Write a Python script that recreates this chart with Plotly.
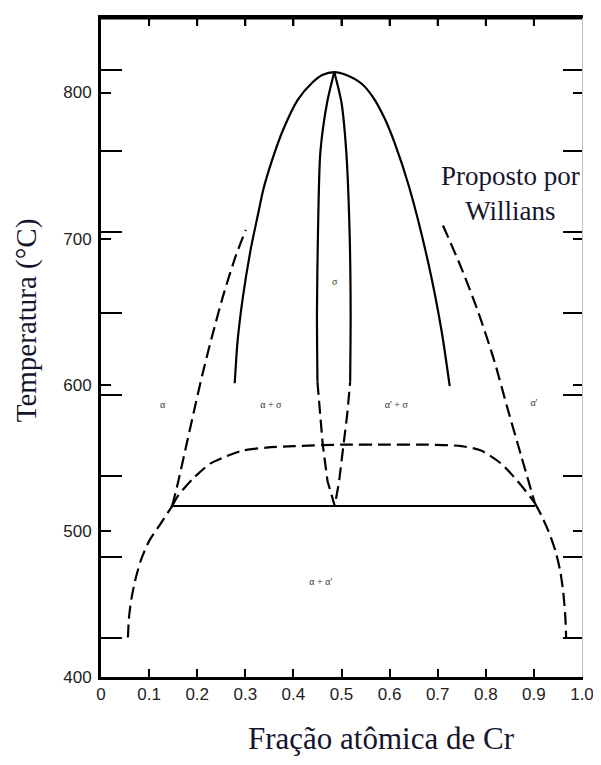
import plotly.graph_objects as go

# ---------------- data ----------------
# outer sigma dome (solid)
sigma_dome_x = [0.278, 0.284, 0.295, 0.312, 0.326, 0.337, 0.355, 0.378, 0.409, 0.440, 0.460,
                0.485, 0.510, 0.542, 0.565, 0.590, 0.611, 0.640, 0.680, 0.708, 0.725]
sigma_dome_T = [601, 630, 660, 694, 716, 733, 753, 774, 795, 807, 812,
                814, 812, 806, 797, 782, 765, 736, 684, 637, 599]

# sigma single-phase lens, solid upper part
lens_left_x = [0.485, 0.470, 0.456, 0.451, 0.449, 0.450]
lens_left_T = [814, 793, 759, 702, 650, 602]
lens_right_x = [0.485, 0.500, 0.510, 0.517, 0.519, 0.518]
lens_right_T = [814, 793, 759, 702, 650, 602]
# dashed lower part of the lens (V)
lens_v_x = [0.450, 0.455, 0.461, 0.471, 0.486, 0.495, 0.505, 0.512, 0.518]
lens_v_T = [602, 580, 559, 534, 517, 534, 559, 580, 602]

# alpha / alpha+sigma boundary (dashed)
alpha_upper_x = [0.148, 0.160, 0.175, 0.192, 0.210, 0.230, 0.254, 0.280, 0.301]
alpha_upper_T = [517, 533, 555, 580, 606, 632, 661, 688, 706]
# alpha' / alpha'+sigma boundary (dashed)
alphap_upper_x = [0.711, 0.749, 0.784, 0.818, 0.845, 0.873, 0.902]
alphap_upper_T = [709, 680, 650, 616, 584, 552, 519]

# lower dashed dome with ~558 C plateau
plateau_x = [0.148, 0.160, 0.192, 0.227, 0.260, 0.295, 0.344, 0.400, 0.500,
             0.600, 0.680, 0.749, 0.790, 0.832, 0.866, 0.893, 0.902]
plateau_T = [517, 524, 536, 546, 551, 555, 557, 558, 559,
             559, 559, 558, 555, 546, 534, 523, 519]

# miscibility gap solvus (dashed)
solvus_left_x = [0.056, 0.058, 0.063, 0.071, 0.083, 0.100, 0.122, 0.148]
solvus_left_T = [427, 440, 453, 466, 480, 493, 504, 517]
solvus_right_x = [0.902, 0.915, 0.930, 0.945, 0.955, 0.961, 0.965, 0.967]
solvus_right_T = [519, 511, 500, 486, 472, 458, 443, 427]

# eutectoid horizontal (solid)
eutectoid_x = [0.145, 0.902]
eutectoid_T = [517, 517]

# phase labels
phase_labels = ["α", "α + σ", "σ", "α' + σ", "α'", "α + α'"]
phase_label_x = [0.128, 0.353, 0.486, 0.614, 0.900, 0.457]
phase_label_T = [586, 586, 670, 586, 587, 465]

# axis ticks
x_ticks = [0, 0.1, 0.2, 0.3, 0.4, 0.5, 0.6, 0.7, 0.8, 0.9, 1.0]
x_tick_labels = ["0", "0.1", "0.2", "0.3", "0.4", "0.5", "0.6", "0.7", "0.8", "0.9", "1.0"]
top_ticks = [0.1, 0.2, 0.3, 0.4, 0.5, 0.6, 0.7, 0.8, 0.9]
c_ticks = [400, 500, 600, 700, 800]
f_ticks = [800, 900, 1000, 1100, 1200, 1300, 1400, 1500]
f_ticks_in_c = [(f - 32) * 5 / 9 for f in f_ticks]

x_range = [0, 1]
T_range = [400, 851]

# ---------------- figure ----------------
fig = go.Figure()
solid = dict(color="black", width=2.2)
dashed = dict(color="black", width=2.2, dash="13px,6px")

def add(x, y, line, smooth=True):
    ln = dict(line, shape="spline", smoothing=0.7) if smooth else line
    fig.add_trace(go.Scatter(x=x, y=y, mode="lines", line=ln,
                             hoverinfo="skip", showlegend=False))

add(sigma_dome_x, sigma_dome_T, solid)
add(lens_left_x, lens_left_T, solid)
add(lens_right_x, lens_right_T, solid)
add(lens_v_x, lens_v_T, dashed, smooth=False)
add(alpha_upper_x, alpha_upper_T, dashed)
add(alphap_upper_x, alphap_upper_T, dashed)
add(plateau_x, plateau_T, dashed)
add(solvus_left_x, solvus_left_T, dashed)
add(solvus_right_x, solvus_right_T, dashed)
add(eutectoid_x, eutectoid_T, dict(color="black", width=2), smooth=False)

fig.add_trace(go.Scatter(x=phase_label_x, y=phase_label_T, mode="text", text=phase_labels,
                         textfont=dict(family="Liberation Serif", size=10, color="#333"),
                         hoverinfo="skip", showlegend=False))

# invisible carriers so the decorative overlay axes get drawn
for ya in ["y2", "y3", "y4"]:
    fig.add_trace(go.Scatter(x=[x_range[0]], y=[T_range[0]], xaxis="x", yaxis=ya,
                             mode="markers", marker=dict(opacity=0), hoverinfo="skip",
                             showlegend=False))

# top frame line with inward ticks (drawn at the range top)
fig.add_shape(type="line", xref="x", yref="y", x0=x_range[0], x1=x_range[1],
              y0=T_range[1], y1=T_range[1], layer="above",
              line=dict(color="black", width=3))
for tv in top_ticks:
    fig.add_shape(type="line", xref="x", yref="y", ysizemode="pixel", yanchor=T_range[1],
                  x0=tv, x1=tv, y0=0, y1=-8, layer="above", line=dict(color="black", width=2))

title_color = "#15152e"
fig.add_annotation(x=0.851, y=731, xref="x", yref="y", text="Proposto por<br>Willians",
                   showarrow=False, font=dict(family="Liberation Serif", size=27, color=title_color))
fig.add_annotation(x=-0.155, y=0.542, xref="paper", yref="paper", text="Temperatura (°C)",
                   textangle=-90, showarrow=False, xanchor="center", yanchor="middle",
                   font=dict(family="Liberation Serif", size=29, color=title_color))
fig.add_annotation(x=0.583, y=-0.093, xref="paper", yref="paper", text="Fração atômica de Cr",
                   showarrow=False, xanchor="center", yanchor="middle",
                   font=dict(family="Liberation Serif", size=31, color=title_color))

tick_font = dict(family="Liberation Sans", size=17, color="#222")
# the page body adds an 8px offset; keep the whole page inside the 765px window
fig.update_layout(
    width=593, height=749,
    margin=dict(l=93, r=16, t=7, b=80),
    paper_bgcolor="white", plot_bgcolor="white",
    xaxis=dict(range=x_range, showline=True, linewidth=3, linecolor="black", mirror="ticks",
               ticks="inside", ticklen=8, tickwidth=2, tickcolor="black",
               tickvals=x_ticks, ticktext=x_tick_labels, tickfont=tick_font,
               showgrid=False, zeroline=False),
    yaxis=dict(range=T_range, showline=True, linewidth=3, linecolor="black", mirror=False,
               ticks="inside", ticklen=10, tickwidth=2, tickcolor="black",
               tickvals=c_ticks, tickfont=tick_font, ticklabelstandoff=3,
               showgrid=False, zeroline=False),
    yaxis2=dict(range=T_range, overlaying="y", side="left", anchor="x", showline=False,
                ticks="inside", ticklen=21, tickwidth=2, tickcolor="black",
                tickvals=f_ticks_in_c, showticklabels=False, showgrid=False, zeroline=False),
    yaxis3=dict(range=T_range, overlaying="y", side="right", anchor="x", showline=True,
                linewidth=1, linecolor="#c0c0c0",
                ticks="inside", ticklen=9, tickwidth=2, tickcolor="black",
                tickvals=c_ticks[1:], showticklabels=False, showgrid=False, zeroline=False),
    yaxis4=dict(range=T_range, overlaying="y", side="right", anchor="x", showline=False,
                ticks="inside", ticklen=19, tickwidth=2, tickcolor="black",
                tickvals=f_ticks_in_c, showticklabels=False, showgrid=False, zeroline=False),
)

fig.write_html("out.html", config={"displayModeBar": False})
